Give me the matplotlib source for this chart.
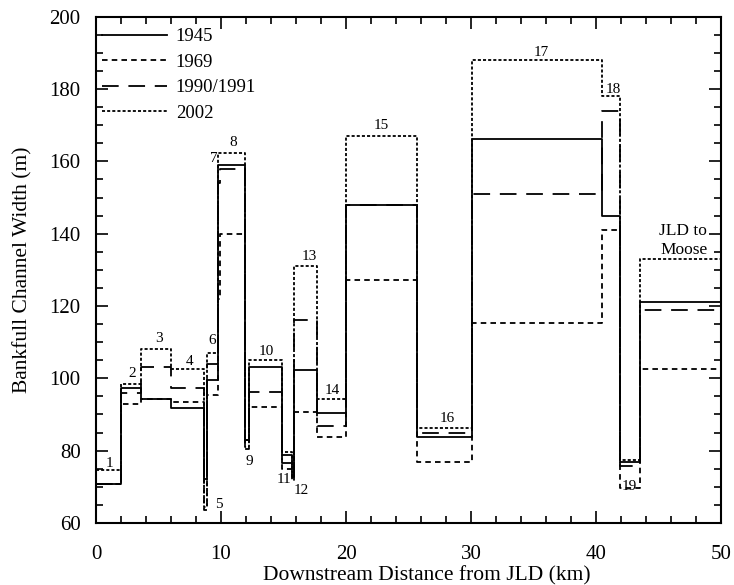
import matplotlib
matplotlib.use('Agg')
import matplotlib.pyplot as plt
from matplotlib.lines import Line2D
from matplotlib.ticker import MultipleLocator

plt.rcParams['font.family'] = ['Liberation Serif', 'DejaVu Serif']
plt.rcParams['lines.scale_dashes'] = False

# reach boundaries (km downstream from JLD)
edges = [0, 1.97, 3.6, 6.0, 8.6, 8.85, 9.75, 9.95, 11.95, 12.2, 14.9,
         15.65, 15.85, 17.7, 20.0, 25.7, 30.05, 40.45, 41.9, 43.5, 50]

# bankfull width per reach (m)
w1945 = [70.7, 97.4, 94.4, 91.7, 72.3, 99.5, 159.0, 159.0, 83.0, 103.2,
         78.8, 73.0, 102.3, 90.3, 147.8, 83.7, 166.3, 145.0, 76.9, 121.0]
w1969 = [70.7, 92.9, 94.2, 93.5, 63.5, 95.5, 122.0, 140.0, 80.5, 92.1,
         74.8, 71.5, 90.7, 83.7, 127.1, 76.9, 115.2, 141.0, 69.7, 102.5]
w1990 = [70.7, 96.0, 103.2, 97.2, 72.5, 104.0, 154.0, 158.0, 83.0, 96.1,
         76.7, 72.8, 116.1, 86.8, 147.8, 84.9, 151.1, 174.0, 75.7, 119.0]
w2002 = [74.6, 98.4, 108.1, 102.5, 64.5, 107.0, 162.3, 162.3, 81.0, 105.0,
         79.5, 74.0, 131.0, 94.2, 167.0, 86.4, 188.1, 178.0, 77.4, 132.9]

labels = ['1945', '1969', '1990/1991', '2002']
styles = ['-', (0, (4.0, 3.0)), (0, (12.0, 7.0)), (0, (2.2, 1.5))]

# reach numbers and where they sit
reach_ids = [str(i) for i in range(1, 20)]
reach_x = [1.1, 2.9, 5.0, 7.5, 9.8, 9.3, 9.4, 11.0, 12.3, 13.65,
           15.0, 16.4, 17.1, 18.9, 22.8, 28.1, 35.65, 41.4, 42.7]
reach_y = [76.5, 101.3, 111.0, 104.6, 65.0, 110.4, 160.7, 165.3, 77.0, 107.3,
           71.9, 68.9, 133.8, 96.7, 170.0, 88.9, 190.2, 180.0, 70.0]

fig = plt.figure(figsize=(7.34, 5.85), dpi=100)
ax = fig.add_axes([0.1308, 0.106, 0.8515, 0.8655])

for vals, ls in zip((w1945, w1969, w1990, w2002), styles):
    ax.step(edges, vals + [vals[-1]], where='post', color='black',
            linestyle=ls, linewidth=1.3)

for t, x, y in zip(reach_ids, reach_x, reach_y):
    ax.text(x, y, t, ha='center', va='center', fontsize=11)

ax.text(48.9, 138.1, 'JLD to\nMoose', ha='right', va='center',
        fontsize=12.5, linespacing=1.2)

ax.set_xlim(0, 50)
ax.set_ylim(60, 200)
ax.xaxis.set_major_locator(MultipleLocator(10))
ax.xaxis.set_minor_locator(MultipleLocator(2))
ax.yaxis.set_major_locator(MultipleLocator(20))
ax.yaxis.set_minor_locator(MultipleLocator(5))
ax.tick_params(which='both', direction='in', top=True, right=True,
               width=1.2, labelsize=15)
ax.tick_params(which='major', length=8.4)
ax.tick_params(which='minor', length=4.8)
ax.tick_params(axis='x', which='major', pad=16)
ax.tick_params(axis='y', which='major', pad=11)
for s in ax.spines.values():
    s.set_linewidth(1.5)

ax.set_xlabel('Downstream Distance from JLD (km)', fontsize=15.5)
ax.set_ylabel('Bankfull Channel Width (m)', fontsize=15.5)
ax.xaxis.set_label_coords(0.53, -0.085)
ax.yaxis.set_label_coords(-0.102, 0.5)

handles = [Line2D([], [], color='black', linestyle=ls, linewidth=1.3)
           for ls in styles]
ax.legend(handles, labels, loc='upper left', bbox_to_anchor=(0.0, 0.988),
          frameon=False, fontsize=13.5, handlelength=3.5, handletextpad=0.45,
          labelspacing=0.44, borderaxespad=0.1, borderpad=0.2)

fig.savefig('out.png', dpi=100)
